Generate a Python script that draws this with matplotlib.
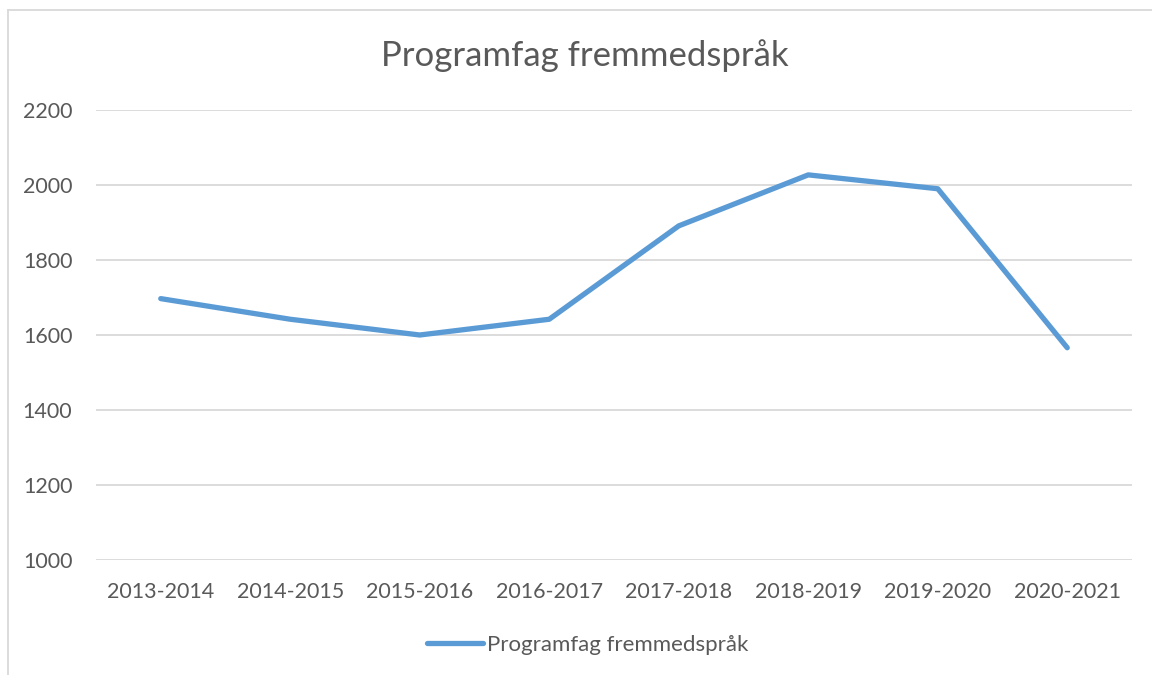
import matplotlib.pyplot as plt
from matplotlib.lines import Line2D

# data
years = ['2013-2014', '2014-2015', '2015-2016', '2016-2017',
         '2017-2018', '2018-2019', '2019-2020', '2020-2021']
values = [1697, 1642, 1600, 1642, 1891, 2027, 1990, 1566]
y_ticks = [1000, 1200, 1400, 1600, 1800, 2000, 2200]

plt.rcParams['font.family'] = ['Lato', 'DejaVu Sans']
text_col = '#595959'
grid_col = '#D9D9D9'
line_col = '#5B9BD5'

W, H = 1152, 675
fig = plt.figure(figsize=(W / 100, H / 100), dpi=100)
ax = fig.add_axes([96 / W, 1 - 560 / H, (1132 - 96) / W, (560 - 110) / H])

x = list(range(len(years)))
line, = ax.plot(x, values, color=line_col, linewidth=3.8,
                solid_capstyle='round', solid_joinstyle='round',
                label='Programfag fremmedspråk')

ax.set_xlim(-0.5, len(years) - 0.5)
ax.set_ylim(1000, 2200)
ax.set_yticks(y_ticks)
ax.set_xticks(x)
ax.set_xticklabels(years)
ax.tick_params(axis='both', length=0, labelsize=15.5, colors=text_col)
ax.tick_params(axis='x', pad=16)
ax.tick_params(axis='y', pad=17)
ax.grid(axis='y', color=grid_col, linewidth=1.3)
ax.set_axisbelow(True)
for s in ax.spines.values():
    s.set_visible(False)

fig.text(585 / W, 1 - 56 / H, 'Programfag fremmedspråk', ha='center', va='center',
         fontsize=25, color=text_col)

leg = fig.legend(handles=[line], loc='center', bbox_to_anchor=(588 / W, 1 - 645 / H),
                 frameon=False, fontsize=16, handlelength=2.5, handletextpad=0.2)
for t in leg.get_texts():
    t.set_color(text_col)

# outer chart frame (left and top edges visible in the crop)
fig.add_artist(Line2D([8 / W, 8 / W], [0, 1 - 10 / H], transform=fig.transFigure,
                      color=grid_col, linewidth=1.3))
fig.add_artist(Line2D([8 / W, 1], [1 - 10 / H, 1 - 10 / H], transform=fig.transFigure,
                      color=grid_col, linewidth=1.3))

fig.savefig('out.png', dpi=100)
